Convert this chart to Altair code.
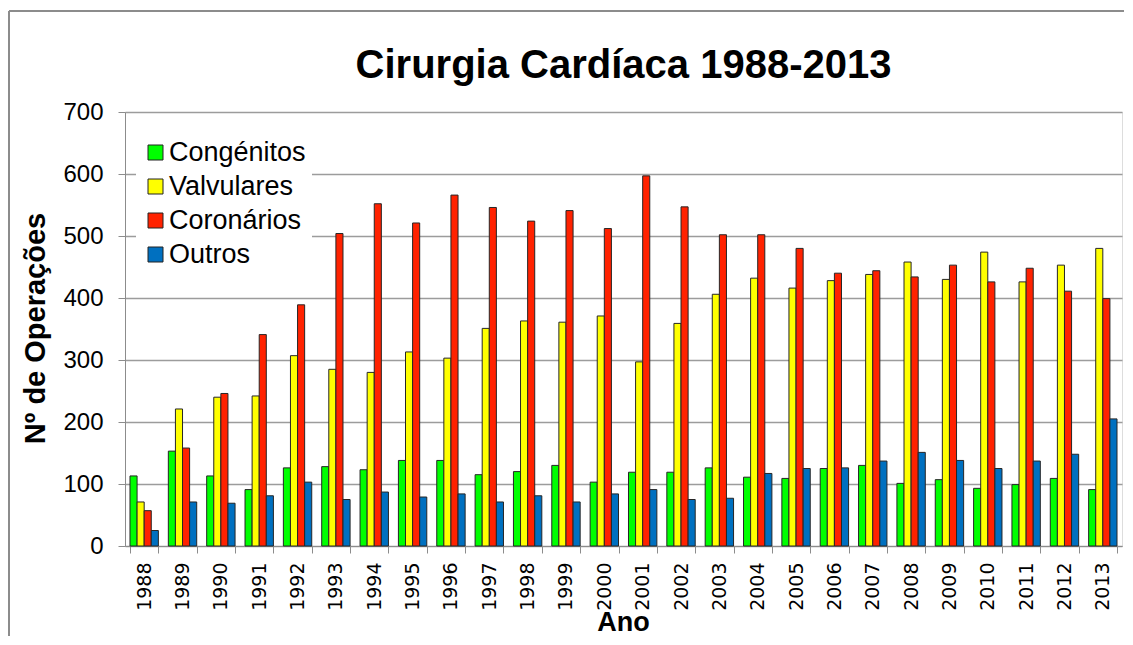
import altair as alt
import pandas as pd

years = [str(y) for y in range(1988, 2014)]
series_names = ["Congénitos", "Valvulares", "Coronários", "Outros"]
series_colors = ["#00ff00", "#ffff00", "#ff2200", "#0070c0"]

congenitos = [113, 153, 113, 91, 126, 128, 123, 138, 138, 115, 120, 130, 103,
              119, 119, 126, 111, 109, 125, 130, 101, 107, 93, 99, 109, 91]
valvulares = [71, 221, 240, 242, 307, 285, 280, 313, 303, 351, 363, 361, 371,
              297, 359, 406, 432, 416, 428, 438, 458, 430, 474, 426, 453, 480]
coronarios = [57, 158, 246, 341, 389, 504, 552, 521, 566, 546, 524, 541, 512,
              597, 547, 502, 502, 480, 440, 444, 434, 453, 426, 448, 411, 399]
outros = [25, 71, 69, 81, 103, 75, 87, 79, 84, 71, 81, 71, 84,
          91, 75, 77, 117, 125, 126, 137, 151, 138, 125, 137, 148, 205]

y_ticks = [0, 100, 200, 300, 400, 500, 600, 700]

rows = []
for name, vals in zip(series_names, [congenitos, valvulares, coronarios, outros]):
    for yr, v in zip(years, vals):
        rows.append({"Ano": yr, "Serie": name, "Valor": v})
df = pd.DataFrame(rows)

FONT = "Liberation Sans"
W, H = 997, 434

bars = alt.Chart(df).mark_bar(stroke="#262626", strokeWidth=1).encode(
    x=alt.X(
        "Ano:O",
        sort=years,
        title="Ano",
        scale=alt.Scale(paddingInner=0.26, paddingOuter=0.13),
        axis=alt.Axis(
            labelAngle=270,
            labelFont="DejaVu Sans",
            labelFontSize=19,
            labelColor="black",
            labelAlign="right",
            labelBaseline="middle",
            labelPadding=9,
            tickBand="extent",
            tickSize=7,
            tickColor="#8c8c8c",
            domainColor="#8c8c8c",
            grid=False,
            titleFont=FONT,
            titleFontSize=27,
            titleFontWeight="bold",
            titleColor="black",
            titleX=498,
            titleY=84,
            titleBaseline="alphabetic",
            titleAlign="center",
        ),
    ),
    xOffset=alt.XOffset(
        "Serie:N",
        sort=series_names,
        scale=alt.Scale(domain=series_names, paddingInner=0, paddingOuter=0),
    ),
    y=alt.Y(
        "Valor:Q",
        title="Nº de Operações",
        scale=alt.Scale(domain=[0, 700], nice=False),
        axis=alt.Axis(
            values=y_ticks,
            labelFont=FONT,
            labelFontSize=24,
            labelColor="black",
            labelPadding=15,
            tickSize=7,
            tickColor="#8c8c8c",
            domainColor="#8c8c8c",
            gridColor="#9c9c9c",
            gridWidth=1.3,
            titleFont=FONT,
            titleFontSize=29,
            titleFontWeight="bold",
            titleColor="black",
            titleAngle=270,
            titleX=-90,
            titleY=216,
            titleAlign="center",
            titleBaseline="middle",
        ),
    ),
    color=alt.Color(
        "Serie:N",
        sort=series_names,
        scale=alt.Scale(domain=series_names, range=series_colors),
        legend=alt.Legend(
            title=None,
            orient="none",
            legendX=11,
            legendY=21,
            fillColor="white",
            padding=6,
            symbolType="square",
            symbolSize=225,
            symbolStrokeColor="#222222",
            symbolStrokeWidth=1,
            symbolOpacity=1,
            labelFont=FONT,
            labelFontSize=27,
            labelColor="black",
            labelOffset=0,
            rowPadding=6,
        ),
    ),
)

frame_df = pd.DataFrame({"k": [0]})
frame_top = alt.Chart(frame_df).mark_rule(color="#8c8c8c", strokeWidth=2).encode(
    x=alt.value(-116), x2=alt.value(1010), y=alt.value(-101)
)
frame_left = alt.Chart(frame_df).mark_rule(color="#8c8c8c", strokeWidth=2).encode(
    x=alt.value(-116), y=alt.value(-101), y2=alt.value(540)
)

chart = alt.layer(bars, frame_top, frame_left).properties(
    width=W,
    height=H,
    title=alt.TitleParams(
        "Cirurgia Cardíaca 1988-2013",
        font=FONT,
        fontSize=40,
        fontWeight="bold",
        color="black",
        anchor="middle",
        baseline="alphabetic",
        offset=22,
        dy=130,
    ),
    autosize=alt.AutoSizeParams(type="none"),
    padding={"left": 117, "top": 104, "right": 2, "bottom": 90},
).configure_view(
    fill="#f2f2f2", stroke="#8c8c8c", strokeWidth=1.3
).configure(background="white")

chart.save("out.html", embed_options={"renderer": "svg", "actions": False})
